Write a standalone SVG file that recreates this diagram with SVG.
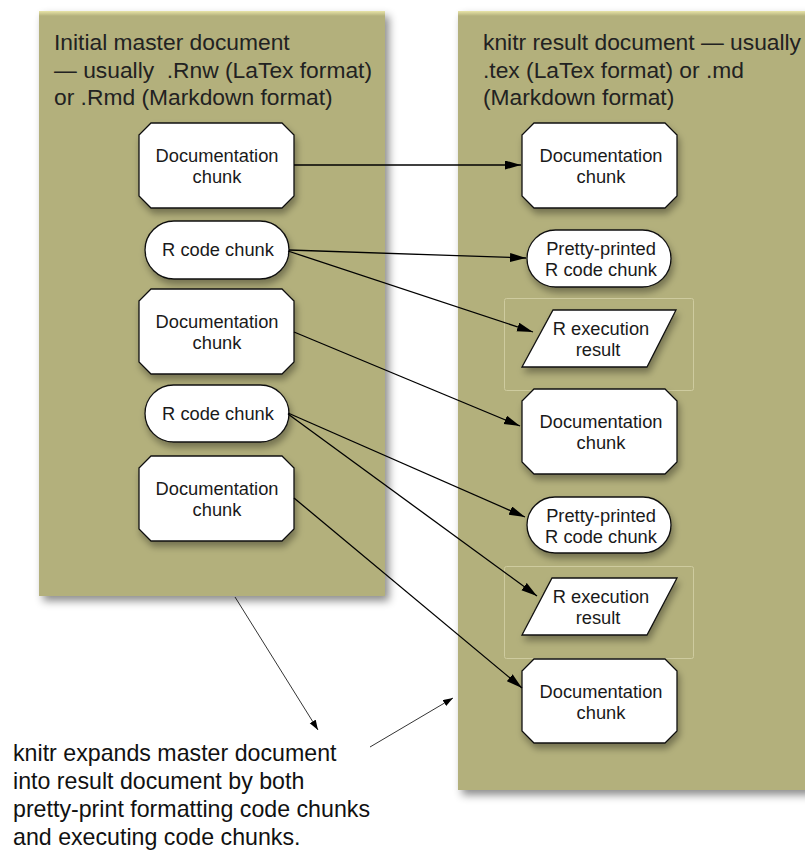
<svg xmlns="http://www.w3.org/2000/svg" width="805" height="850" viewBox="0 0 805 850">
  <defs>
    <filter id="panelShadow" x="-10%" y="-10%" width="130%" height="130%">
      <feDropShadow dx="4" dy="5" stdDeviation="4" flood-color="#000" flood-opacity="0.45"/>
    </filter>
    <filter id="nodeShadow" x="-20%" y="-20%" width="150%" height="160%">
      <feDropShadow dx="2" dy="5" stdDeviation="3.5" flood-color="#000" flood-opacity="0.35"/>
    </filter>
    <linearGradient id="panelTop" x1="0" y1="0" x2="0" y2="1">
      <stop offset="0" stop-color="#e8e4a8"/>
      <stop offset="1" stop-color="#b3b07b"/>
    </linearGradient>
    <marker id="head" markerUnits="userSpaceOnUse" markerWidth="17" markerHeight="10" refX="16" refY="4.5" orient="auto">
      <path d="M0,0 L16,4.5 L0,9 Z" fill="#000"/>
    </marker>
    <marker id="headSmall" markerUnits="userSpaceOnUse" markerWidth="11" markerHeight="8" refX="10" refY="3.5" orient="auto">
      <path d="M0,0 L10,3.5 L0,7 Z" fill="#000"/>
    </marker>
  </defs>
  <style>
    .panel { fill: #b3b07b; filter: url(#panelShadow); }
    .hl { fill: url(#panelTop); }
    .node { fill: #fff; stroke: #111; stroke-width: 1.3; filter: url(#nodeShadow); }
    .grp { fill: none; stroke: #cecb9f; stroke-width: 1; }
    .t { font-family: "Liberation Sans", Arial, Helvetica, sans-serif; fill: #1a1a1a; white-space: pre; }
    .nt { font-size: 18.3px; text-anchor: middle; }
    .title { font-size: 22.8px; fill: #222; }
    .cap { font-size: 23.2px; fill: #111; }
    .conn { stroke: #000; stroke-width: 1.3; fill: none; marker-end: url(#head); }
    .note { stroke: #000; stroke-width: 0.8; fill: none; marker-end: url(#headSmall); }
  </style>

  <rect width="805" height="850" fill="#fff"/>

  <!-- source document panel -->
  <g id="panel-master">
    <rect class="panel" x="39" y="11" width="346" height="585"/>
    <rect class="hl" x="39" y="11" width="346" height="5"/>
    <text class="t title" x="54" y="50">Initial master document</text>
    <text class="t title" x="54" y="77.5" xml:space="preserve">— usually  .Rnw (LaTex format)</text>
    <text class="t title" x="54" y="105">or .Rmd (Markdown format)</text>
  </g>

  <!-- result document panel -->
  <g id="panel-result">
    <rect class="panel" x="458" y="11" width="360" height="779"/>
    <rect class="hl" x="458" y="11" width="360" height="5"/>
    <text class="t title" x="483" y="50">knitr result document — usually</text>
    <text class="t title" x="483" y="77.5">.tex (LaTex format) or .md</text>
    <text class="t title" x="483" y="105">(Markdown format)</text>
  </g>

  <!-- left column chunks -->
  <g id="m-doc1">
    <path class="node" d="M151,123 H282 L294,135 V196 L282,208 H151 L139,196 V135 Z"/>
    <text class="t nt" x="217" y="162">Documentation</text>
    <text class="t nt" x="217" y="183">chunk</text>
  </g>
  <g id="m-code1">
    <rect class="node" x="145" y="221" width="144" height="58" rx="29"/>
    <text class="t nt" x="218" y="256">R code chunk</text>
  </g>
  <g id="m-doc2">
    <path class="node" d="M151,289 H282 L294,301 V362 L282,374 H151 L139,362 V301 Z"/>
    <text class="t nt" x="217" y="328">Documentation</text>
    <text class="t nt" x="217" y="349">chunk</text>
  </g>
  <g id="m-code2">
    <rect class="node" x="145" y="385" width="144" height="57" rx="28.5"/>
    <text class="t nt" x="218" y="419.5">R code chunk</text>
  </g>
  <g id="m-doc3">
    <path class="node" d="M151,456 H282 L294,468 V529 L282,541 H151 L139,529 V468 Z"/>
    <text class="t nt" x="217" y="495">Documentation</text>
    <text class="t nt" x="217" y="516">chunk</text>
  </g>

  <!-- right column chunks -->
  <g id="r-doc1">
    <path class="node" d="M534,123 H665 L677,135 V196 L665,208 H534 L522,196 V135 Z"/>
    <text class="t nt" x="601" y="162">Documentation</text>
    <text class="t nt" x="601" y="183">chunk</text>
  </g>
  <g id="r-pretty1">
    <rect class="node" x="527" y="230" width="144" height="57" rx="28.5"/>
    <text class="t nt" x="601" y="255">Pretty-printed</text>
    <text class="t nt" x="601" y="276">R code chunk</text>
  </g>
  <g id="r-exec1">
    <rect class="grp" x="504.5" y="298.5" width="189" height="92" rx="2"/>
    <path class="node" d="M553,310 H676 L647,367 H522 Z"/>
    <text class="t nt" x="601" y="335">R execution</text>
    <text class="t nt" x="598" y="356">result</text>
  </g>
  <g id="r-doc2">
    <path class="node" d="M534,389 H665 L677,401 V462 L665,474 H534 L522,462 V401 Z"/>
    <text class="t nt" x="601" y="428">Documentation</text>
    <text class="t nt" x="601" y="449">chunk</text>
  </g>
  <g id="r-pretty2">
    <rect class="node" x="527" y="497" width="144" height="56" rx="28"/>
    <text class="t nt" x="601" y="521.5">Pretty-printed</text>
    <text class="t nt" x="601" y="542.5">R code chunk</text>
  </g>
  <g id="r-exec2">
    <rect class="grp" x="504.5" y="566.5" width="189" height="92" rx="2"/>
    <path class="node" d="M552,578 H677 L647,635 H522 Z"/>
    <text class="t nt" x="601" y="603">R execution</text>
    <text class="t nt" x="598" y="624">result</text>
  </g>
  <g id="r-doc3">
    <path class="node" d="M534,659 H665 L677,671 V731 L665,743 H534 L522,731 V671 Z"/>
    <text class="t nt" x="601" y="697.5">Documentation</text>
    <text class="t nt" x="601" y="718.5">chunk</text>
  </g>

  <!-- explanatory caption -->
  <g id="caption">
    <text class="t cap" x="13" y="761">knitr expands master document</text>
    <text class="t cap" x="13" y="789">into result document by both</text>
    <text class="t cap" x="13" y="817">pretty-print formatting code chunks</text>
    <text class="t cap" x="13" y="845">and executing code chunks.</text>
  </g>

  <!-- connectors -->
  <g id="connectors">
    <line class="conn" x1="294" y1="165" x2="521" y2="165"/>
    <line class="conn" x1="289" y1="250" x2="526" y2="258"/>
    <line class="conn" x1="288" y1="251" x2="533" y2="332"/>
    <line class="conn" x1="294" y1="332" x2="520" y2="426"/>
    <line class="conn" x1="288" y1="413" x2="525" y2="517"/>
    <line class="conn" x1="288" y1="414" x2="537" y2="596"/>
    <line class="conn" x1="294" y1="498" x2="522" y2="688"/>
    <line class="note" x1="235" y1="597" x2="318" y2="730"/>
    <line class="note" x1="370" y1="747" x2="453" y2="698"/>
  </g>
</svg>
